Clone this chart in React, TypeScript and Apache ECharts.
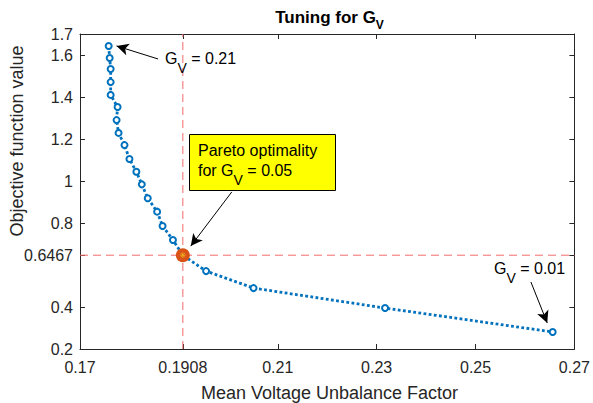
import React, { useEffect, useRef } from 'react';
import * as echarts from 'echarts';

// G_V tuning values (first = 0.21, last = 0.01)
const gvValues = [0.21, 0.2, 0.19, 0.18, 0.17, 0.16, 0.15, 0.14, 0.13, 0.12, 0.11, 0.1, 0.09, 0.08, 0.07, 0.06, 0.05, 0.04, 0.03, 0.02, 0.01];
const mvufValues = [0.1758, 0.176, 0.1762, 0.1762, 0.1762, 0.1776, 0.1774, 0.1778, 0.179, 0.18, 0.1814, 0.1825, 0.1837, 0.1856, 0.1867, 0.1888, 0.1908, 0.1955, 0.2051, 0.2317, 0.2656];
const objectiveValues = [1.643, 1.586, 1.533, 1.471, 1.41, 1.352, 1.29, 1.229, 1.171, 1.105, 1.044, 0.984, 0.918, 0.854, 0.786, 0.719, 0.6467, 0.571, 0.49, 0.395, 0.281];
const paretoIndex = 16;

const xRange = [0.17, 0.27];
const yRange = [0.2, 1.7];
const xTicks = [0.17, 0.1908, 0.21, 0.23, 0.25, 0.27];
const yTicks = [0.2, 0.4, 0.6467, 0.8, 1, 1.2, 1.4, 1.6, 1.7];

// annotation arrows in data coordinates: [tailX, tailY, tipX, tipY]
const arrowTop = [0.1858, 1.581, 0.1774, 1.643];
const arrowPareto = [0.2007, 0.948, 0.1924, 0.69];
const arrowEnd = [0.2612, 0.519, 0.2645, 0.324];

const fontFamily = '"Liberation Sans", Arial, Helvetica, sans-serif';
const textColor = '#262626';
const axisColor = '#262626';
const blue = '#0072BD';
const orange = '#D95319';
const red = '#F26B6B';

const fmt = (v: number) => String(+Number(v).toFixed(4));

let measureCtx: CanvasRenderingContext2D | null = null;
function measure(text: string, size: number, weight: string) {
  if (!measureCtx) measureCtx = document.createElement('canvas').getContext('2d');
  measureCtx!.font = `${weight} ${size}px ${fontFamily}`;
  return measureCtx!.measureText(text).width;
}

// text with a subscript: main1 + sub + main2, left edge at x (or centred), middle of main text at y
function subText(x: number, y: number, main1: string, sub: string, main2: string,
  mainSize: number, subSize: number, shift: number, weight: string, center: boolean, z: number) {
  const w1 = measure(main1, mainSize, weight);
  const ws = measure(sub, subSize, weight);
  const w2 = measure(main2, mainSize, weight);
  const x0 = center ? x - (w1 + ws + w2) / 2 : x;
  const base = { fontFamily, fontWeight: weight, fill: '#000', textAlign: 'left', verticalAlign: 'middle', textVerticalAlign: 'middle' };
  const els: any[] = [
    { type: 'text', z, style: { ...base, x: x0, y, text: main1, fontSize: mainSize } },
    { type: 'text', z, style: { ...base, x: x0 + w1, y: y + shift, text: sub, fontSize: subSize } },
  ];
  if (main2) els.push({ type: 'text', z, style: { ...base, x: x0 + w1 + ws, y, text: main2, fontSize: mainSize } });
  return els;
}

export default function App() {
  const ref = useRef<HTMLDivElement>(null);
  useEffect(() => {
    document.body.style.margin = '0';
    const chart = echarts.init(ref.current!, null, { renderer: 'svg' });
    const points = mvufValues.map((x, i) => [x, objectiveValues[i]]);
    const pareto = [mvufValues[paretoIndex], objectiveValues[paretoIndex]];

    const mkX = (position: string, show: boolean) => ({
      type: 'value', position, min: xRange[0], max: xRange[1],
      axisLine: { show: true, onZero: false, lineStyle: { color: axisColor, width: 1 } },
      axisTick: { show: true, inside: true, length: 5, customValues: xTicks, lineStyle: { color: axisColor } },
      axisLabel: { show, customValues: xTicks, margin: 10, fontSize: 16, color: textColor, fontFamily, formatter: fmt },
      splitLine: { show: false },
    });
    const mkY = (position: string, show: boolean) => ({
      type: 'value', position, min: yRange[0], max: yRange[1],
      axisLine: { show: true, onZero: false, lineStyle: { color: axisColor, width: 1 } },
      axisTick: { show: true, inside: true, length: 5, customValues: yTicks, lineStyle: { color: axisColor } },
      axisLabel: { show, customValues: yTicks, margin: 7, fontSize: 16, color: textColor, fontFamily, formatter: fmt },
      splitLine: { show: false },
    });

    const arrowSeg = (a: number[]) => [{ coord: [a[0], a[1]] }, { coord: [a[2], a[3]] }];

    const refLine = (data: number[][]) => ({
      type: 'line', z: 1, data, symbol: 'none', silent: true,
      lineStyle: { color: red, type: [8, 5], width: 1 },
      emphasis: { disabled: true },
    });

    chart.setOption({
      animation: false,
      grid: { left: 80, right: 14, top: 34, bottom: 54, containLabel: false },
      xAxis: [mkX('bottom', true), mkX('top', false)],
      yAxis: [mkY('left', true), mkY('right', false)],
      series: [
        refLine([[pareto[0], yRange[0]], [pareto[0], yRange[1]]]),
        refLine([[xRange[0], pareto[1]], [xRange[1], pareto[1]]]),
        {
          type: 'line', name: 'tuning', z: 3, data: points,
          symbol: 'emptyCircle', symbolSize: 6, showAllSymbol: true,
          itemStyle: { color: blue, borderWidth: 3 },
          lineStyle: { color: blue, width: 2.8, type: [2.8, 2.4], cap: 'butt' },
        },
        {
          type: 'scatter', name: 'pareto', z: 4, data: [pareto],
          symbol: 'circle', symbolSize: 14, itemStyle: { color: orange, opacity: 1 },
        },
        {
          type: 'scatter', name: 'paretoStar', z: 5, data: [pareto],
          symbol: 'path://M5,0L5,10M0,5L10,5M1.5,1.5L8.5,8.5M1.5,8.5L8.5,1.5', symbolSize: 6,
          itemStyle: { color: 'none', borderColor: '#EDB120', borderWidth: 1 },
          markLine: {
            silent: true, symbol: ['none', 'arrow'], symbolSize: [9, 12], label: { show: false },
            lineStyle: { color: '#000', type: 'solid', width: 1 },
            data: [arrowSeg(arrowTop), arrowSeg(arrowPareto), arrowSeg(arrowEnd)],
          },
        },
      ],
      graphic: [
        ...subText(329.5, 17, 'Tuning for G', 'V', '', 17, 12, 8, 'bold', true, 10),
        ...subText(165, 58, 'G', 'V', ' = ' + fmt(gvValues[0]), 16, 14, 10, 'normal', false, 10),
        {
          type: 'rect', z: 10, shape: { x: 189.5, y: 134.5, width: 146, height: 56 },
          style: { fill: '#FFFF00', stroke: '#000', lineWidth: 1 },
        },
        {
          type: 'text', z: 11, style: {
            x: 198, y: 150.5, text: 'Pareto optimality', textAlign: 'left', verticalAlign: 'middle', textVerticalAlign: 'middle',
            fontSize: 16, fontFamily, fill: '#000',
          },
        },
        ...subText(198, 170.5, 'for G', 'V', ' = ' + gvValues[paretoIndex].toFixed(2), 16, 14, 9.5, 'normal', false, 11),
        ...subText(494, 268, 'G', 'V', ' = ' + fmt(gvValues[gvValues.length - 1]), 16, 14, 10, 'normal', false, 10),
        {
          type: 'text', z: 10, style: {
            x: 329.5, y: 393, text: 'Mean Voltage Unbalance Factor', textAlign: 'center', verticalAlign: 'middle', textVerticalAlign: 'middle',
            fontSize: 18, fontFamily, fill: textColor,
          },
        },
        {
          type: 'text', z: 10, x: 16.5, y: 141, rotation: Math.PI / 2, style: {
            x: 0, y: 0, text: 'Objective function value', textAlign: 'center', verticalAlign: 'middle', textVerticalAlign: 'middle',
            fontSize: 18, fontFamily, fill: textColor,
          },
        },
      ],
    });
    return () => chart.dispose();
  }, []);
  return <div ref={ref} style={{ width: 593, height: 403 }} />;
}
